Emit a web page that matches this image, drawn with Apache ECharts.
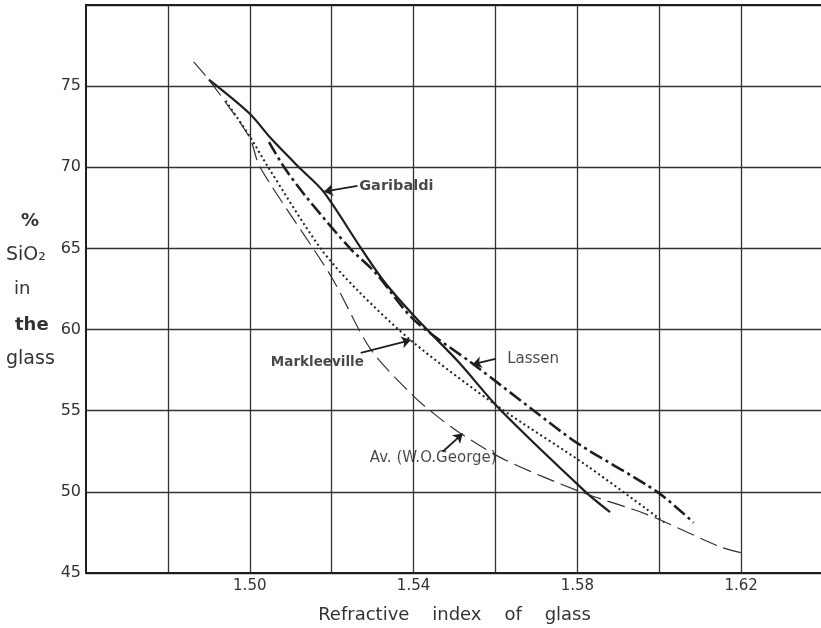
<!DOCTYPE html>
<html>
<head>
<meta charset="utf-8">
<script src="https://cdn.jsdelivr.net/npm/echarts@6/dist/echarts.min.js"></script>
<style>
html,body{margin:0;padding:0;background:#fff;}
#chart{width:821px;height:628px;}
</style>
</head>
<body>
<div id="chart"></div>
<script>
// Axis ticks
const xTickLabels = ['1.50', '1.54', '1.58', '1.62'];
const yTickLabels = ['45', '50', '55', '60', '65', '70', '75'];
// Vertical grid positions
const xGridValues = [1.48, 1.50, 1.52, 1.54, 1.56, 1.58, 1.60, 1.62];

// Curves [refractive index, % SiO2]
const garibaldi = [[1.490,75.4],[1.500,73.3],[1.5051,71.8],[1.512,70.0],[1.518,68.5],[1.5272,65.0],[1.533,62.9],[1.541,60.6],[1.551,58.0],[1.561,55.1],[1.582,50.0],[1.588,48.75]];
const lassen = [[1.5047,71.55],[1.5084,70.0],[1.5137,68.2],[1.5245,65.0],[1.5307,63.5],[1.5401,60.6],[1.5547,57.85],[1.5694,55.0],[1.580,53.0],[1.5995,50.0],[1.6084,48.1]];
const markleeville = [[1.4941,74.1],[1.500,71.9],[1.5045,70.0],[1.5173,65.0],[1.526,62.5],[1.540,59.2],[1.5604,55.3],[1.5824,51.6],[1.6019,48.0]];
const avGeorge = [[1.4863,76.5],[1.490,75.4],[1.4941,74.0],[1.500,71.8],[1.5025,70.0],[1.5198,63.3],[1.5295,58.8],[1.540,55.9],[1.5458,54.65],[1.5515,53.6],[1.5621,52.0],[1.5808,50.0],[1.5971,48.6],[1.615,46.6],[1.620,46.25]];

// Curve labels [x, y, text, fontSize, fontWeight]
const curveLabels = [
  [1.5358, 68.86, 'Garibaldi', 14.5, 'bold'],
  [1.5165, 57.95, 'Markleeville', 13.5, 'bold'],
  [1.5692, 58.2, 'Lassen', 15, 'normal'],
  [1.5448, 52.07, 'Av. (W.O.George)', 15, 'normal']
];
// Pointer arrows [tail, head]
const pointerArrows = [
  [[1.5263, 68.86], [1.5181, 68.5]],
  [[1.5271, 58.57], [1.5393, 59.35]],
  [[1.5600, 58.2], [1.5544, 57.85]],
  [[1.5471, 52.47], [1.5520, 53.59]]
];

const ink = '#1e1e1e';
const gridInk = '#333';
const chart = echarts.init(document.getElementById('chart'), null, {renderer: 'canvas'});

function lineSeries(name, data, style) {
  return {
    name: name, type: 'line', data: data, smooth: 0.3, showSymbol: false,
    lineStyle: Object.assign({color: ink}, style), z: 5, silent: true
  };
}

chart.setOption({
  animation: false,
  backgroundColor: '#fff',
  grid: {left: 86, top: 5, width: 737, height: 568, show: false,
         containLabel: false, outerBoundsMode: 'none'},
  xAxis: [{
    type: 'value', min: 1.46, max: 1.64, interval: 0.02,
    axisLine: {show: true, lineStyle: {color: ink, width: 2}},
    axisTick: {show: false},
    splitLine: {show: false},
    axisLabel: {
      color: '#333', fontSize: 15, fontFamily: 'DejaVu Sans', margin: 6,
      formatter: function (v) { const s = v.toFixed(2); return xTickLabels.indexOf(s) >= 0 ? s : ''; }
    },
    name: 'Refractive    index    of    glass',
    nameLocation: 'middle', nameGap: 33,
    nameTextStyle: {color: '#333', fontSize: 18, fontFamily: 'DejaVu Sans'}
  }, {
    type: 'value', position: 'top', min: 1.46, max: 1.64, interval: 0.02,
    axisLine: {show: true, onZero: false, lineStyle: {color: ink, width: 2.2}},
    axisTick: {show: false}, axisLabel: {show: false}, splitLine: {show: false}
  }],
  yAxis: {
    type: 'value', min: 45, max: 80, interval: 5,
    axisLine: {show: true, lineStyle: {color: ink, width: 2}},
    axisTick: {show: false},
    splitLine: {show: true, lineStyle: {color: gridInk, width: 1.3}},
    axisLabel: {
      color: '#333', fontSize: 16, fontFamily: 'DejaVu Sans', margin: 5,
      formatter: function (v) { const s = String(Math.round(v)); return yTickLabels.indexOf(s) >= 0 ? s : ''; }
    }
  },
  graphic: [
    {type: 'text', left: 21, top: 212, style: {text: '%', font: 'bold 18px DejaVu Sans', fill: '#333'}},
    {type: 'text', left: 6, top: 246, style: {text: 'SiO₂', font: '19px DejaVu Sans', fill: '#333'}},
    {type: 'text', left: 14, top: 280, style: {text: 'in', font: '18px DejaVu Sans', fill: '#333'}},
    {type: 'text', left: 15, top: 316, style: {text: 'the', font: 'bold 18px DejaVu Sans', fill: '#333'}},
    {type: 'text', left: 6, top: 350, style: {text: 'glass', font: '19px DejaVu Sans', fill: '#333'}}
  ],
  series: [
    {
      type: 'line', data: [], silent: true, z: 1,
      markLine: {
        silent: true, symbol: 'none', label: {show: false},
        lineStyle: {color: gridInk, width: 1.3, type: 'solid'},
        data: xGridValues.map(function (v) { return {xAxis: v}; })
      }
    },
    lineSeries('Garibaldi', garibaldi, {width: 2.2, type: 'solid'}),
    lineSeries('Lassen', lassen, {width: 2.6, type: [14, 4, 3, 4]}),
    lineSeries('Markleeville', markleeville, {width: 2, type: [2, 3]}),
    lineSeries('Av. (W.O.George)', avGeorge, {width: 1.2, type: [18, 7], color: '#333'}),
    {
      type: 'lines', coordinateSystem: 'cartesian2d', silent: true, z: 6,
      symbol: ['none', 'arrow'], symbolSize: 9,
      lineStyle: {color: ink, width: 1.8, opacity: 1},
      data: pointerArrows.map(function (a) { return {coords: a}; })
    },
    {
      type: 'scatter', symbolSize: 0, silent: true, z: 7,
      data: curveLabels.map(function (d) {
        return {value: [d[0], d[1]], name: d[2], label: {fontSize: d[3], fontWeight: d[4]}};
      }),
      label: {
        show: true, position: 'inside', color: '#1a1a1a', fontFamily: 'DejaVu Sans',
        formatter: function (p) { return p.name; }
      },
      labelLayout: {hideOverlap: false}
    }
  ]
});
</script>
</body>
</html>
